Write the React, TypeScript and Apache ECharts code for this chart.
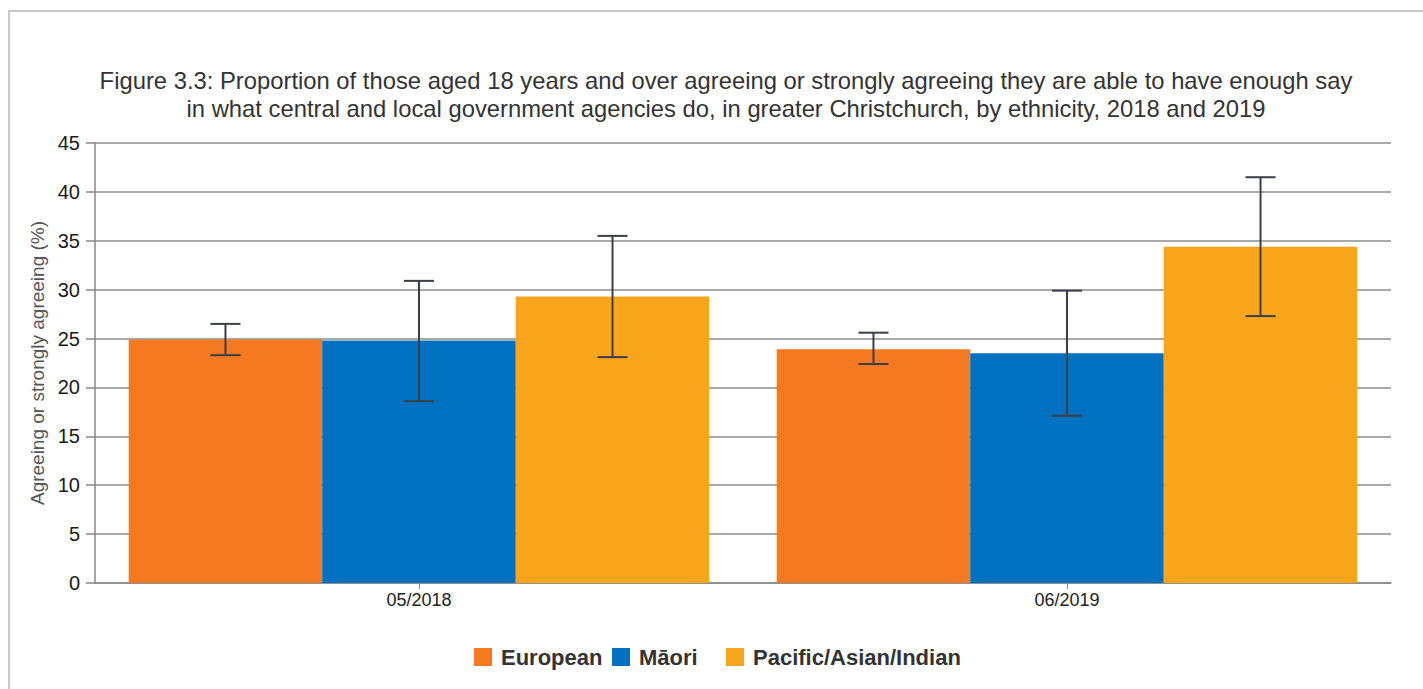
import React, { useEffect, useRef } from "react";
import * as echarts from "echarts";

const categories = ["05/2018", "06/2019"];
const seriesNames = ["European", "Māori", "Pacific/Asian/Indian"];
const european = [24.9, 23.9];
const maori = [24.8, 23.5];
const pacific = [29.3, 34.4];
const europeanLow = [23.3, 22.4];
const europeanHigh = [26.5, 25.6];
const maoriLow = [18.6, 17.1];
const maoriHigh = [30.9, 29.9];
const pacificLow = [23.1, 27.3];
const pacificHigh = [35.5, 41.5];
const yTicks = [0, 5, 10, 15, 20, 25, 30, 35, 40, 45];
const titleLines = [
  "Figure 3.3: Proportion of those aged 18 years and over agreeing or strongly agreeing they are able to have enough say",
  "in what central and local government agencies do, in greater Christchurch, by ethnicity, 2018 and 2019",
];
const colors = ["#F47920", "#0070C0", "#F8A51C"];
const legendLefts = [474, 612, 726];

const FONT = "'Liberation Sans', Arial, sans-serif";
const GAP = 0.104;

export default function App() {
  const ref = useRef<HTMLDivElement>(null);
  useEffect(() => {
    if (!ref.current) return;
    const chart = echarts.init(ref.current, undefined, { renderer: "svg" });
    const values = [european, maori, pacific];
    const lows = [europeanLow, maoriLow, pacificLow];
    const highs = [europeanHigh, maoriHigh, pacificHigh];
    const errData: number[][] = [];
    for (let s = 0; s < 3; s++) {
      for (let c = 0; c < categories.length; c++) {
        errData.push([c, s, lows[s][c], highs[s][c]]);
      }
    }
    chart.setOption({
      animation: false,
      backgroundColor: "#ffffff",
      graphic: [
        {
          type: "rect",
          shape: { x: 9, y: 11, width: 1430, height: 700 },
          style: { fill: "none", stroke: "#c8c8c8", lineWidth: 2 },
          silent: true,
        },
        {
          type: "text",
          x: 726,
          y: 80,
          style: {
            text: titleLines[0],
            font: `23.8px ${FONT}`,
            fill: "#333333",
            textAlign: "center",
            textVerticalAlign: "middle",
          },
        },
        {
          type: "text",
          x: 726,
          y: 108,
          style: {
            text: titleLines[1],
            font: `23.8px ${FONT}`,
            fill: "#333333",
            textAlign: "center",
            textVerticalAlign: "middle",
          },
        },
      ],
      legend: seriesNames.map((name, i) => ({
        data: [name],
        bottom: 21,
        left: legendLefts[i],
        padding: 0,
        itemWidth: 18,
        itemHeight: 18,
        icon: "rect",
        textStyle: {
          fontFamily: FONT,
          fontSize: 22,
          fontWeight: "bold",
          color: "#333333",
          padding: [0, 0, 0, 4],
        },
      })),
      grid: { left: 95, right: 32, top: 143, bottom: 106, containLabel: false },
      xAxis: {
        type: "category",
        data: categories,
        axisLine: { lineStyle: { color: "#888888", width: 1.5 } },
        axisTick: { show: true, alignWithLabel: true, length: 6, lineStyle: { color: "#888888" } },
        axisLabel: { fontFamily: FONT, fontSize: 18, color: "#222222", margin: 8 },
      },
      yAxis: {
        type: "value",
        min: 0,
        max: 45,
        interval: 5,
        name: "Agreeing or strongly agreeing (%)",
        nameLocation: "middle",
        nameGap: 43,
        nameTextStyle: { fontFamily: FONT, fontSize: 19, color: "#555555" },
        axisLine: { show: true, lineStyle: { color: "#888888", width: 1.5 } },
        axisTick: { show: true, length: 9, lineStyle: { color: "#888888", width: 1.5 } },
        axisLabel: {
          fontFamily: FONT,
          fontSize: 20,
          color: "#1a1a1a",
          margin: 15,
          formatter: (v: number) => (yTicks.includes(v) ? String(v) : ""),
        },
        splitLine: { show: true, lineStyle: { color: "#8c8c8c", width: 1.5 } },
      },
      series: [
        ...seriesNames.map((name, i) => ({
          name,
          type: "bar",
          data: values[i],
          itemStyle: { color: colors[i] },
          barGap: "0%",
          barCategoryGap: `${GAP * 100}%`,
          z: 2,
        })),
        {
          name: "error",
          type: "custom",
          z: 5,
          encode: { x: 0, y: [2, 3] },
          data: errData,
          renderItem: (_params: any, api: any) => {
            const cat = api.value(0);
            const s = api.value(1);
            const lo = api.coord([cat, api.value(2)]);
            const hi = api.coord([cat, api.value(3)]);
            const band = api.size([1, 0])[0];
            const barW = (band * (1 - GAP)) / 3;
            const x = lo[0] + (s - 1) * barW;
            const cap = 15;
            const style = { stroke: "#3a3e46", lineWidth: 2 };
            return {
              type: "group",
              children: [
                { type: "line", shape: { x1: x, y1: lo[1], x2: x, y2: hi[1] }, style },
                { type: "line", shape: { x1: x - cap, y1: hi[1], x2: x + cap, y2: hi[1] }, style },
                { type: "line", shape: { x1: x - cap, y1: lo[1], x2: x + cap, y2: lo[1] }, style },
              ],
            };
          },
        },
      ],
    });
    return () => chart.dispose();
  }, []);
  return (
    <div
      ref={ref}
      style={{ position: "absolute", left: 0, top: 0, width: 1423, height: 689 }}
    />
  );
}
